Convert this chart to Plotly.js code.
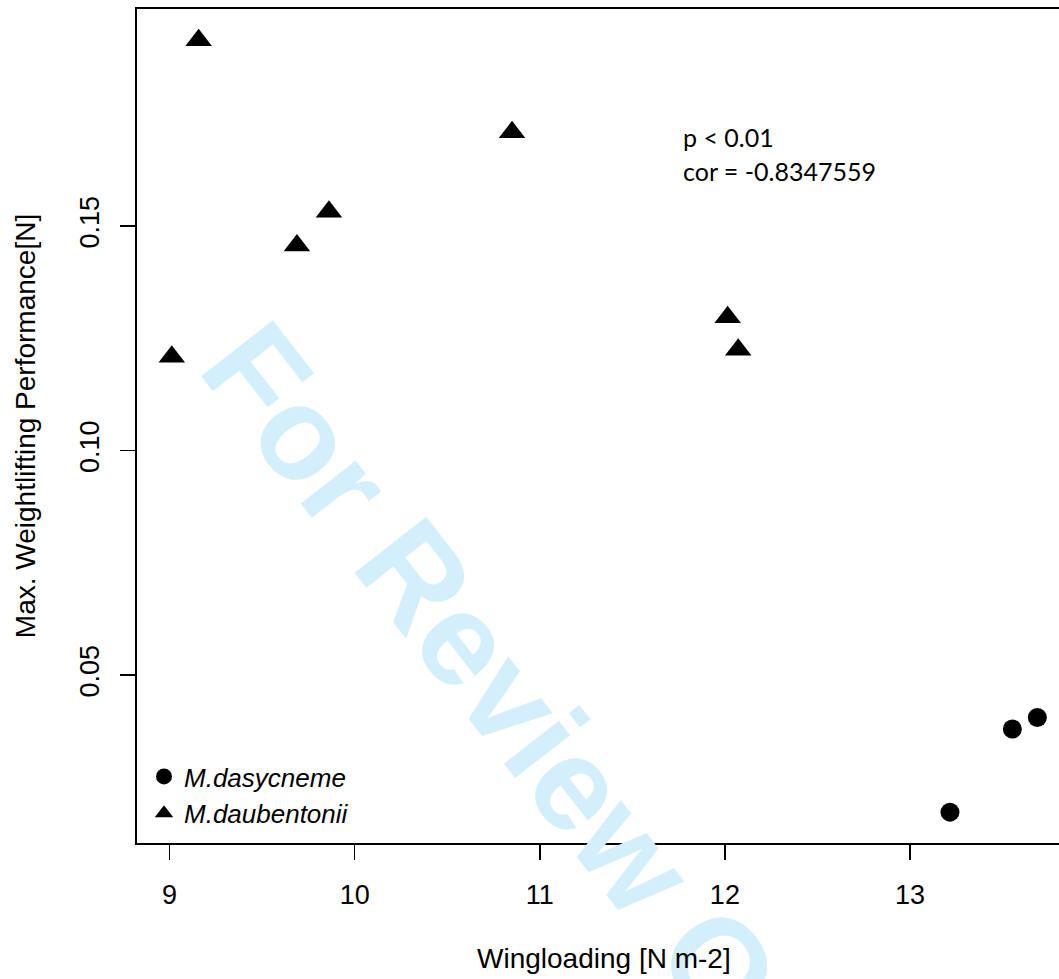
<!DOCTYPE html>
<html>
<head>
<meta charset="utf-8">
<script src="https://cdn.plot.ly/plotly-3.0.1.min.js"></script>
<style>
html,body{margin:0;padding:0;background:#fff;overflow:hidden;}
#chart{width:1059px;height:979px;}
</style>
</head>
<body>
<div id="chart"></div>
<script>
// Data
var dasycnemeWingloading = [13.216, 13.553, 13.688];
var dasycnemeWeight = [0.0195, 0.0380, 0.0406];
var daubentoniiWingloading = [9.157, 9.012, 9.688, 9.861, 10.850, 12.015, 12.072];
var daubentoniiWeight = [0.1914, 0.1209, 0.1457, 0.1532, 0.1709, 0.1297, 0.1225];
var speciesNames = ['M.dasycneme', 'M.daubentonii'];
var xTickVals = [9, 10, 11, 12, 13];
var yTickVals = [0.05, 0.10, 0.15];
var yTickText = ['0.05', '0.10', '0.15'];
var xTitle = 'Wingloading [N m-2]';
var yTitle = 'Max. Weightlifting Performance[N]';
var statLines = ['p < 0.01', 'cor = -0.8347559'];
var watermark = 'For Review Only';

var axisFont = {family: 'Liberation Sans, Arial, sans-serif', size: 27, color: '#000'};
var titleFont = {family: 'Liberation Sans, Arial, sans-serif', size: 28, color: '#000'};

var traces = [
  {
    x: dasycnemeWingloading, y: dasycnemeWeight, type: 'scatter', mode: 'markers',
    name: '<i>' + speciesNames[0] + '</i>',
    marker: {symbol: 'circle', size: 19, color: '#000'}, cliponaxis: false
  },
  {
    x: daubentoniiWingloading, y: daubentoniiWeight, type: 'scatter', mode: 'markers',
    name: '<i>' + speciesNames[1] + '</i>',
    marker: {symbol: 'triangle-up', size: 23, color: '#000'}, cliponaxis: false
  }
];

var L = 137, T = 9, B = 136, W = 1059, H = 979;
var plotW = W - L, plotH = H - T - B;
function px2paperX(p) { return (p - L) / plotW; }
function px2paperY(p) { return 1 - (p - T) / plotH; }

var layout = {
  width: W, height: H,
  margin: {l: L, r: 0, t: T, b: B},
  paper_bgcolor: '#fff', plot_bgcolor: '#fff',
  showlegend: true,
  legend: {
    x: px2paperX(144), y: px2paperY(753), xanchor: 'left', yanchor: 'top',
    bgcolor: 'rgba(0,0,0,0)', borderwidth: 0,
    font: {family: 'Liberation Sans, Arial, sans-serif', size: 26, color: '#000'},
    itemwidth: 30, tracegroupgap: 0
  },
  xaxis: {
    range: [8.824, 13.805], tickvals: xTickVals, ticktext: xTickVals.map(String),
    showgrid: false, zeroline: false, showline: true, linecolor: '#000', linewidth: 2,
    mirror: true, ticks: 'outside', ticklen: 15, tickwidth: 1.5, tickcolor: '#000',
    tickfont: axisFont, ticklabelstandoff: 12, automargin: false
  },
  yaxis: {
    range: [0.01263, 0.19837], tickvals: yTickVals, ticktext: yTickText,
    showgrid: false, zeroline: false, showline: true, linecolor: '#000', linewidth: 2,
    ticks: 'outside', ticklen: 15, tickwidth: 1.5, tickcolor: '#000',
    tickfont: axisFont, tickangle: -90, ticklabelstandoff: 10, automargin: false,
    title: {text: yTitle, font: titleFont, standoff: 31}
  },
  annotations: [
    {
      x: 11.054, y: 0.0337, xref: 'x', yref: 'y', text: '<b>' + watermark + '</b>',
      showarrow: false, textangle: 52, xanchor: 'center', yanchor: 'middle',
      font: {family: 'Liberation Sans, Arial, sans-serif', size: 132, color: 'rgb(212,239,252)'}
    },
    {
      x: px2paperX(604), y: px2paperY(958), xref: 'paper', yref: 'paper', text: xTitle,
      showarrow: false, xanchor: 'center', yanchor: 'middle', font: titleFont
    },
    {
      x: px2paperX(681), y: px2paperY(137), xref: 'paper', yref: 'paper', text: statLines[0],
      showarrow: false, xanchor: 'left', yanchor: 'middle',
      font: {family: 'Lato, sans-serif', size: 25, color: '#000'}
    },
    {
      x: px2paperX(681), y: px2paperY(171), xref: 'paper', yref: 'paper', text: statLines[1],
      showarrow: false, xanchor: 'left', yanchor: 'middle',
      font: {family: 'Lato, sans-serif', size: 25, color: '#000'}
    }
  ]
};

Plotly.newPlot('chart', traces, layout, {staticPlot: true, displayModeBar: false});
</script>
</body>
</html>
